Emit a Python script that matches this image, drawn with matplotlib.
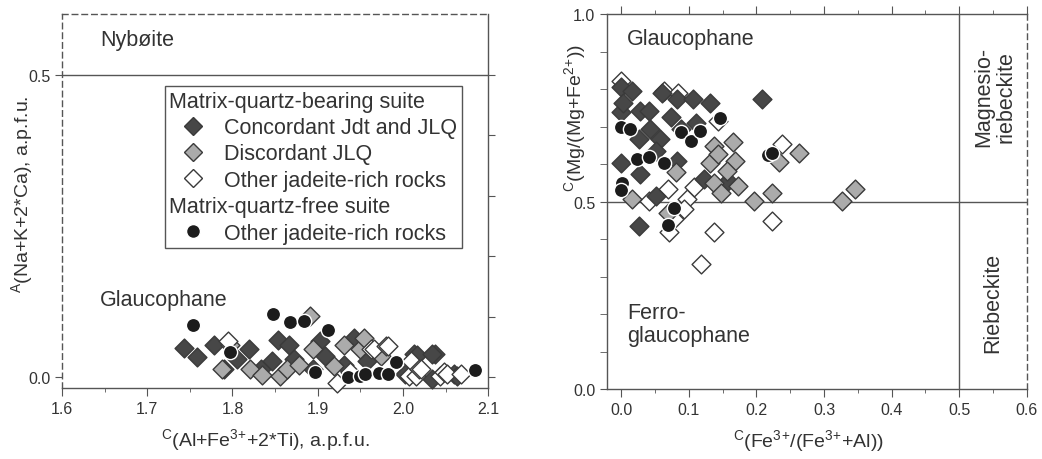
import matplotlib
matplotlib.use("Agg")
import matplotlib.pyplot as plt
from matplotlib.lines import Line2D
from matplotlib.ticker import MultipleLocator, FixedLocator, FormatStrFormatter

plt.rcParams['font.family'] = ['Liberation Sans', 'DejaVu Sans']
plt.rcParams['mathtext.fontset'] = 'custom'
plt.rcParams['mathtext.rm'] = 'Liberation Sans'
plt.rcParams['mathtext.default'] = 'regular'

# ---- left panel: A(Na+K+2Ca) vs C(Al+Fe3+ +2Ti) ----
a_conc_x = [1.743, 1.758, 1.778, 1.790, 1.805, 1.819, 1.833, 1.846, 1.854, 1.866, 1.872, 1.895,
            1.903, 1.909, 1.931, 1.942, 1.958, 2.003, 2.013, 2.017, 2.034, 2.038, 2.034, 2.060, 2.064]
a_conc_y = [0.049, 0.034, 0.053, 0.013, 0.030, 0.046, 0.013, 0.027, 0.062, 0.054, 0.031, 0.013,
            0.060, 0.035, 0.021, 0.065, 0.027, 0.005, 0.038, 0.036, -0.003, 0.038, 0.038, 0.005, 0.002]
a_disc_x = [1.788, 1.797, 1.821, 1.835, 1.856, 1.864, 1.878, 1.891, 1.895, 1.919, 1.931, 1.950,
            1.954, 1.974]
a_disc_y = [0.013, 0.054, 0.013, 0.003, 0.002, 0.013, 0.021, 0.101, 0.046, 0.019, 0.053, 0.046,
            0.065, 0.035]
a_other_x = [1.795, 1.923, 1.938, 1.962, 1.966, 1.980, 1.982, 2.007, 2.009, 2.015, 2.019, 2.021,
             2.044, 2.048, 2.052, 2.068]
a_other_y = [0.060, -0.009, 0.008, 0.046, 0.046, 0.052, 0.052, 0.002, 0.027, 0.002, 0.013, 0.013,
             0.002, 0.008, 0.005, 0.005]
a_free_x = [1.754, 1.797, 1.848, 1.867, 1.884, 1.897, 1.912, 1.935, 1.950, 1.956, 1.972, 1.983,
            1.992, 2.085]
a_free_y = [0.086, 0.042, 0.104, 0.091, 0.093, 0.009, 0.078, 0.000, 0.002, 0.005, 0.007, 0.005,
            0.025, 0.012]

# ---- right panel: C(Mg/(Mg+Fe2+)) vs C(Fe3+/(Fe3+ +Al)) ----
c_conc_x = [0.000, 0.016, 0.000, 0.028, 0.061, 0.073, 0.083, 0.106, 0.131, 0.208, 0.000, 0.026,
            0.043, 0.026, 0.058, 0.083, 0.111, 0.028, 0.051, 0.158, 0.003, 0.041, 0.123, 0.051,
            0.088]
c_conc_y = [0.807, 0.796, 0.738, 0.742, 0.791, 0.725, 0.773, 0.773, 0.764, 0.775, 0.604, 0.436,
            0.693, 0.667, 0.667, 0.609, 0.711, 0.573, 0.636, 0.556, 0.764, 0.742, 0.560, 0.516,
            0.693]
c_disc_x = [0.166, 0.138, 0.131, 0.143, 0.168, 0.156, 0.138, 0.173, 0.148, 0.196, 0.223, 0.263,
            0.233, 0.326, 0.346, 0.016, 0.081, 0.069]
c_disc_y = [0.658, 0.649, 0.604, 0.627, 0.609, 0.582, 0.551, 0.542, 0.524, 0.502, 0.524, 0.629,
            0.606, 0.502, 0.535, 0.508, 0.578, 0.471]
c_other_x = [0.118, 0.138, 0.223, 0.238, 0.041, 0.069, 0.098, 0.108, 0.093, 0.071, 0.063, 0.084,
             0.000, 0.143, 0.078]
c_other_y = [0.333, 0.418, 0.449, 0.653, 0.502, 0.533, 0.507, 0.538, 0.480, 0.418, 0.796, 0.791,
             0.822, 0.716, 0.453]
c_free_x = [0.000, 0.013, 0.088, 0.103, 0.117, 0.146, 0.024, 0.041, 0.063, 0.001, 0.000, 0.078,
            0.069, 0.217, 0.223]
c_free_y = [0.698, 0.693, 0.686, 0.662, 0.689, 0.722, 0.613, 0.618, 0.604, 0.551, 0.531, 0.484,
            0.437, 0.624, 0.631]

line_c = '#555555'
txt_c = '#333333'
fs_txt = 15.5
fs_lab = 14
fs_tick = 11.5
styles = [
    dict(marker='D', s=92, facecolor='#474747', edgecolor='#3a3a3a', linewidths=1.0),
    dict(marker='D', s=92, facecolor='#ababab', edgecolor='#3a3a3a', linewidths=1.0),
    dict(marker='D', s=92, facecolor='white', edgecolor='#3a3a3a', linewidths=1.0),
    dict(marker='o', s=105, facecolor='#1c1c1c', edgecolor='white', linewidths=1.0),
]

fig = plt.figure(figsize=(10.42, 4.6), dpi=100)
ax1 = fig.add_axes([0.0595, 0.154, 0.409, 0.813])
ax2 = fig.add_axes([0.5825, 0.152, 0.403, 0.815])

# left panel
for xs, ys, st in zip([a_conc_x, a_disc_x, a_other_x, a_free_x],
                      [a_conc_y, a_disc_y, a_other_y, a_free_y], styles):
    ax1.scatter(xs, ys, zorder=3, clip_on=False, **st)
ax1.set_xlim(1.6, 2.1)
ax1.set_ylim(-0.018, 0.6)
ax1.axhline(0.5, color=line_c, lw=1.0)
for side in ['top', 'left']:
    ax1.spines[side].set_linestyle((0, (4, 3)))
for sp in ax1.spines.values():
    sp.set_color(line_c)
    sp.set_linewidth(1.0)
ax1.xaxis.set_major_locator(MultipleLocator(0.1))
ax1.xaxis.set_minor_locator(MultipleLocator(0.05))
ax1.xaxis.set_major_formatter(FormatStrFormatter('%.1f'))
ax1.yaxis.set_major_locator(FixedLocator([0.0, 0.5]))
ax1.yaxis.set_major_formatter(FormatStrFormatter('%.1f'))
ax1.tick_params(axis='x', which='major', direction='out', length=6, color=line_c,
                labelsize=fs_tick, labelcolor=txt_c)
ax1.tick_params(axis='x', which='minor', direction='out', length=3, color=line_c)
ax1.tick_params(axis='y', which='major', direction='out', length=5, color=line_c,
                labelsize=fs_tick, labelcolor=txt_c)
# right spine ticks every 0.1 with no labels
ax1r = ax1.twinx()
ax1r.set_ylim(ax1.get_ylim())
ax1r.yaxis.set_major_locator(FixedLocator([0.0, 0.1, 0.2, 0.3, 0.4, 0.5]))
ax1r.tick_params(axis='y', direction='out', length=5, color=line_c, labelright=False)
for sp in ax1r.spines.values():
    sp.set_visible(False)

ax1.set_xlabel(r'$^{C}$(Al+Fe$^{3}$$^{+}$+2*Ti), a.p.f.u.', fontsize=fs_lab, color=txt_c,
               va='center')
ax1.xaxis.set_label_coords(0.477, -0.136)
ax1.set_ylabel(r'$^{A}$(Na+K+2*Ca), a.p.f.u.', fontsize=fs_lab, color=txt_c, va='center')
ax1.yaxis.set_label_coords(-0.094, 0.52)

ax1.text(1.645, 0.558, 'Nybøite', fontsize=fs_txt, color=txt_c, va='center')
ax1.text(1.645, 0.129, 'Glaucophane', fontsize=fs_txt, color=txt_c, va='center')

labels = ['Matrix-quartz-bearing suite', 'Concordant Jdt and JLQ', 'Discordant JLQ',
          'Other jadeite-rich rocks', 'Matrix-quartz-free suite', 'Other jadeite-rich rocks']
blank = Line2D([], [], linestyle='none')
handles = [blank]
for st in styles[:3]:
    handles.append(Line2D([], [], linestyle='none', marker='D', markersize=9.6,
                          markerfacecolor=st['facecolor'], markeredgecolor=st['edgecolor']))
handles.append(blank)
handles.append(Line2D([], [], linestyle='none', marker='o', markersize=10,
                      markerfacecolor='#1c1c1c', markeredgecolor='white'))
leg = ax1.legend(handles, labels, loc='upper left', bbox_to_anchor=(0.242, 0.807),
                 borderaxespad=0, fancybox=False, edgecolor=line_c, framealpha=1,
                 fontsize=fs_txt, handlelength=2.2, handletextpad=0.35, borderpad=0.2,
                 labelspacing=0.25)
leg.get_frame().set_linewidth(1.0)
for t in leg.get_texts():
    t.set_color(txt_c)
# header rows: drop the empty handle so their text starts at the box edge
rows = leg._legend_handle_box.get_children()[0].get_children()
for row, lab in zip(rows, labels):
    if lab.startswith('Matrix'):
        row.get_children()[0].width = 0
        row.sep = 0

# right panel
for xs, ys, st in zip([c_other_x, c_conc_x, c_disc_x, c_free_x],
                      [c_other_y, c_conc_y, c_disc_y, c_free_y],
                      [styles[2], styles[0], styles[1], styles[3]]):
    ax2.scatter(xs, ys, zorder=3, clip_on=False, **st)
ax2.set_xlim(-0.021, 0.6)
ax2.set_ylim(0, 1.0)
ax2.axhline(0.5, color=line_c, lw=1.0)
ax2.axvline(0.5, color=line_c, lw=1.0)
ax2.spines['right'].set_linestyle((0, (4, 3)))
for sp in ax2.spines.values():
    sp.set_color(line_c)
    sp.set_linewidth(1.0)
ax2.xaxis.set_major_locator(MultipleLocator(0.1))
ax2.xaxis.set_minor_locator(MultipleLocator(0.05))
ax2.xaxis.set_major_formatter(FormatStrFormatter('%.1f'))
ax2.yaxis.set_major_locator(MultipleLocator(0.5))
ax2.yaxis.set_minor_locator(MultipleLocator(0.1))
ax2.yaxis.set_major_formatter(FormatStrFormatter('%.1f'))
ax2.tick_params(axis='x', which='major', direction='out', length=6, color=line_c,
                labelsize=fs_tick, labelcolor=txt_c, top=True)
ax2.tick_params(axis='x', which='minor', direction='out', length=3, color=line_c, top=True)
ax2.tick_params(axis='y', which='both', direction='out', length=5, color=line_c,
                labelsize=fs_tick, labelcolor=txt_c)
ax2.set_xlabel(r'$^{C}$(Fe$^{3}$$^{+}$/(Fe$^{3}$$^{+}$+Al))', fontsize=fs_lab, color=txt_c,
               va='center')
ax2.xaxis.set_label_coords(0.479, -0.136)
ax2.set_ylabel(r'$^{C}$(Mg/(Mg+Fe$^{2}$$^{+}$))', fontsize=fs_lab, color=txt_c, va='center')
ax2.yaxis.set_label_coords(-0.075, 0.725)

ax2.text(0.009, 0.936, 'Glaucophane', fontsize=fs_txt, color=txt_c, va='center')
ax2.text(0.009, 0.173, 'Ferro-\nglaucophane', fontsize=fs_txt, color=txt_c, va='center',
         linespacing=1.1)
ax2.text(0.553, 0.781, 'Magnesio-\nriebeckite', fontsize=fs_txt, color=txt_c, rotation=90,
         ha='center', va='center', linespacing=1.05)
ax2.text(0.550, 0.232, 'Riebeckite', fontsize=fs_txt, color=txt_c, rotation=90,
         ha='center', va='center')

fig.savefig('out.png', dpi=100)
